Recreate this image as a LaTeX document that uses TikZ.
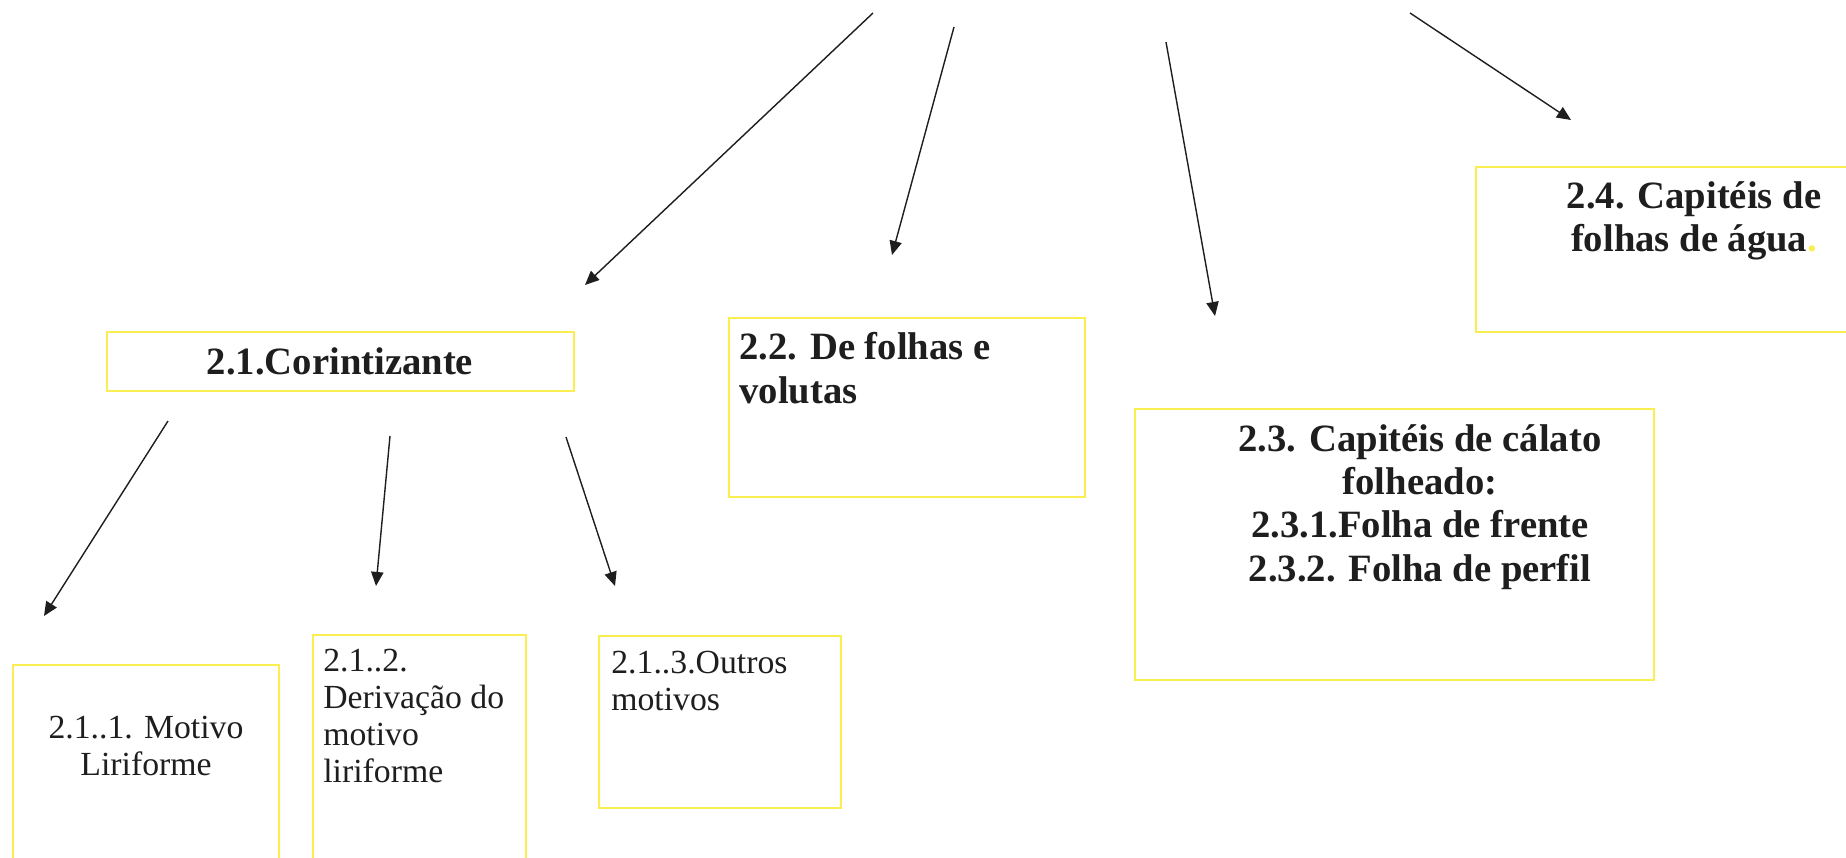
\documentclass[tikz,border=0pt]{standalone}
\usepackage{fontspec}
\setmainfont{Liberation Serif}
\usetikzlibrary{positioning,fit,arrows.meta}
\definecolor{boxyellow}{RGB}{250,238,80}
\definecolor{inkgray}{RGB}{30,30,30}

\begin{document}
\begin{tikzpicture}[x=0.02cm, y=-0.02cm,
  box/.style={draw=boxyellow, line width=1.4pt, inner sep=0pt},
  head/.style={font=\fontsize{22}{24.5}\selectfont\bfseries, text=inkgray, inner sep=0pt},
  sub/.style={font=\fontsize{19.2}{21}\selectfont, text=inkgray, inner sep=0pt},
  arr/.style={-{Triangle[length=8pt,width=7pt]}, line width=0.8pt, draw=inkgray}]
  \useasboundingbox (0,0) rectangle (1846,858);

  % boxes
  \node[box, fit={(107,332) (574,391)}] (b21) {};
  \node[box, fit={(729,318) (1085,497)}] (b22) {};
  \node[box, fit={(1135,409) (1654,680)}] (b23) {};
  \node[box, fit={(1476,167) (1880,332)}] (b24) {};
  \node[box, fit={(13,665) (279,890)}] (b211) {};
  \node[box, fit={(313,635) (526,890)}] (b212) {};
  \node[box, fit={(599,636) (841,808)}] (b213) {};

  % texts (base = last line)
  \node[head, anchor=base] (t21) at (340,374) {2.1.Corintizante};
  \node[head, anchor=base west, align=left] (t22) at (739,403) {2.2. De folhas e\\volutas};
  \node[head, anchor=base, align=center] (t23) at (1420,581)
    {2.3. Capitéis de cálato\\folheado:\\2.3.1.Folha de frente\\2.3.2. Folha de perfil};
  \node[head, anchor=base, align=center] (t24) at (1694,252)
    {2.4. Capitéis de\\folhas de água{\color{boxyellow}.}};
  \node[sub, anchor=base, align=center] (t211) at (146,775) {2.1..1. Motivo\\Liriforme};
  \node[sub, anchor=base west, align=left] (t212) at (323,782)
    {2.1..2.\\Derivação do\\motivo\\liriforme};
  \node[sub, anchor=base west, align=left] (t213) at (611,710) {2.1..3.Outros\\motivos};

  % arrows
  \coordinate (s1) at (873,13);   \coordinate (e1) at (585,285);
  \coordinate (s2) at (954,27);   \coordinate (e2) at (892,255);
  \coordinate (s3) at (1166,42);  \coordinate (e3) at (1215,316);
  \coordinate (s4) at (1410,13);  \coordinate (e4) at (1571,120);
  \coordinate (s5) at (168,421);  \coordinate (e5) at (44,616);
  \coordinate (s6) at (390,436);  \coordinate (e6) at (376,586);
  \coordinate (s7) at (566,437);  \coordinate (e7) at (615,586);
  \foreach \i in {1,...,7}
    \draw[arr] (s\i) -- (e\i);
\end{tikzpicture}
\end{document}
